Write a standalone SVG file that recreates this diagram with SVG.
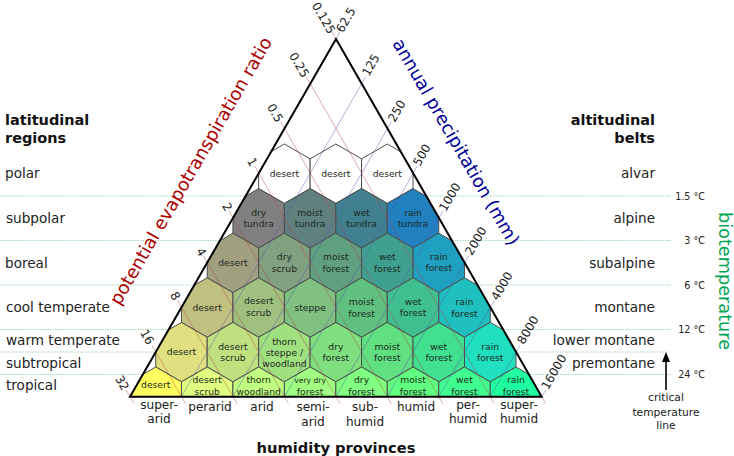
<svg xmlns="http://www.w3.org/2000/svg" width="734" height="456" viewBox="0 0 734 456">
<style>
text{font-family:"DejaVu Sans",sans-serif;fill:#222}
.h{font-size:9.2px;text-anchor:middle;fill:#1c2a20}
.hx{stroke:#4d4d4d;stroke-width:1}
.b{font-size:14.5px;font-weight:bold;fill:#111}
.l{font-size:13.6px}
.p{font-size:12.1px;text-anchor:middle}
.r{text-anchor:end}
.m{text-anchor:middle}
.t{font-size:12px;text-anchor:middle;fill:#222}
.d{font-size:9.6px;text-anchor:end}
.c{font-size:10.7px;text-anchor:middle}
.g{stroke:#a5d8bd;stroke-width:1;stroke-dasharray:1.5 1}
.red line{stroke:#b04040;stroke-opacity:.55;stroke-width:.8}
.blue line{stroke:#5050a8;stroke-opacity:.55;stroke-width:.8}
</style>
<defs>
<polygon id="hex" points="0,-29.7 25.73,-14.85 25.73,14.85 0,29.7 -25.73,14.85 -25.73,-14.85"/>
<clipPath id="tri"><polygon points="336,39 541.7,396.7 130,396.7"/></clipPath>
</defs>
<g id="temperature-lines">
<line class="g" x1="0" y1="196" x2="671" y2="196"/>
<line class="g" x1="0" y1="240.5" x2="671" y2="240.5"/>
<line class="g" x1="0" y1="285" x2="671" y2="285"/>
<line class="g" x1="0" y1="329.5" x2="671" y2="329.5"/>
<line class="g" x1="0" y1="352" x2="668" y2="352"/>
<line class="g" x1="0" y1="374.5" x2="671" y2="374.5"/>
</g>
<g id="hexagons" clip-path="url(#tri)">
<g id="n5a"><use href="#hex" class="hx" x="284.38" y="173.7" fill="#fff"/><text class="h" x="284.38" y="176.7">desert</text></g>
<g id="n5b"><use href="#hex" class="hx" x="335.84" y="173.7" fill="#fff"/><text class="h" x="335.84" y="176.7">desert</text></g>
<g id="n5c"><use href="#hex" class="hx" x="387.3" y="173.7" fill="#fff"/><text class="h" x="387.3" y="176.7">desert</text></g>

<g id="n4a"><use href="#hex" class="hx" x="258.65" y="218.3" fill="#808080"/><text class="h"><tspan x="258.65" y="216">dry</tspan><tspan x="258.65" y="227.3">tundra</tspan></text></g>
<g id="n4b"><use href="#hex" class="hx" x="310.11" y="218.3" fill="#608080"/><text class="h"><tspan x="310.11" y="216">moist</tspan><tspan x="310.11" y="227.3">tundra</tspan></text></g>
<g id="n4c"><use href="#hex" class="hx" x="361.57" y="218.3" fill="#408090"/><text class="h"><tspan x="361.57" y="216">wet</tspan><tspan x="361.57" y="226.5">tundra</tspan></text></g>
<g id="n4d"><use href="#hex" class="hx" x="413.03" y="218.3" fill="#2080c0"/><text class="h"><tspan x="413.03" y="216">rain</tspan><tspan x="413.03" y="227">tundra</tspan></text></g>

<g id="n3a"><use href="#hex" class="hx" x="232.92" y="262.9" fill="#a0a080"/><text class="h" x="232.92" y="266">desert</text></g>
<g id="n3b"><use href="#hex" class="hx" x="284.38" y="262.9" fill="#80a080"/><text class="h"><tspan x="284.38" y="260">dry</tspan><tspan x="284.38" y="271.7">scrub</tspan></text></g>
<g id="n3c"><use href="#hex" class="hx" x="335.84" y="262.9" fill="#60a080"/><text class="h"><tspan x="335.84" y="260">moist</tspan><tspan x="335.84" y="271.7">forest</tspan></text></g>
<g id="n3d"><use href="#hex" class="hx" x="387.3" y="262.9" fill="#40a090"/><text class="h"><tspan x="387.3" y="260">wet</tspan><tspan x="387.3" y="271.7">forest</tspan></text></g>
<g id="n3e"><use href="#hex" class="hx" x="438.76" y="262.9" fill="#20a0c0"/><text class="h"><tspan x="438.76" y="259.5">rain</tspan><tspan x="438.76" y="271">forest</tspan></text></g>

<g id="n2a"><use href="#hex" class="hx" x="207.19" y="307.5" fill="#c0c080"/><text class="h" x="207.19" y="310.7">desert</text></g>
<g id="n2b"><use href="#hex" class="hx" x="258.65" y="307.5" fill="#a0c080"/><text class="h"><tspan x="258.65" y="304">desert</tspan><tspan x="258.65" y="316">scrub</tspan></text></g>
<g id="n2c"><use href="#hex" class="hx" x="310.11" y="307.5" fill="#80c080"/><text class="h" x="310.11" y="310.5">steppe</text></g>
<g id="n2d"><use href="#hex" class="hx" x="361.57" y="307.5" fill="#60c080"/><text class="h"><tspan x="361.57" y="305">moist</tspan><tspan x="361.57" y="316.7">forest</tspan></text></g>
<g id="n2e"><use href="#hex" class="hx" x="413.03" y="307.5" fill="#40c090"/><text class="h"><tspan x="413.03" y="305">wet</tspan><tspan x="413.03" y="316">forest</tspan></text></g>
<g id="n2f"><use href="#hex" class="hx" x="464.49" y="307.5" fill="#20c0c0"/><text class="h"><tspan x="464.49" y="305">rain</tspan><tspan x="464.49" y="316.7">forest</tspan></text></g>

<g id="n1a"><use href="#hex" class="hx" x="181.46" y="352.1" fill="#e0e080"/><text class="h" x="181.46" y="355">desert</text></g>
<g id="n1b"><use href="#hex" class="hx" x="232.92" y="352.1" fill="#c0e080"/><text class="h"><tspan x="232.92" y="349.5">desert</tspan><tspan x="232.92" y="361">scrub</tspan></text></g>
<g id="n1c"><use href="#hex" class="hx" x="284.38" y="352.1" fill="#a0e080"/><text class="h"><tspan x="284.38" y="344.5">thorn</tspan><tspan x="284.38" y="355.5">steppe /</tspan><tspan x="284.38" y="367">woodland</tspan></text></g>
<g id="n1d"><use href="#hex" class="hx" x="335.84" y="352.1" fill="#80e080"/><text class="h"><tspan x="335.84" y="349.5">dry</tspan><tspan x="335.84" y="361">forest</tspan></text></g>
<g id="n1e"><use href="#hex" class="hx" x="387.3" y="352.1" fill="#60e080"/><text class="h"><tspan x="387.3" y="349.5">moist</tspan><tspan x="387.3" y="361">forest</tspan></text></g>
<g id="n1f"><use href="#hex" class="hx" x="438.76" y="352.1" fill="#40e090"/><text class="h"><tspan x="438.76" y="349.5">wet</tspan><tspan x="438.76" y="361">forest</tspan></text></g>
<g id="n1g"><use href="#hex" class="hx" x="490.22" y="352.1" fill="#20e0c0"/><text class="h"><tspan x="490.22" y="350">rain</tspan><tspan x="490.22" y="361">forest</tspan></text></g>

<g id="n0a"><use href="#hex" class="hx" x="155.73" y="396.7" fill="#ffff60"/><text class="h" x="155.73" y="388">desert</text></g>
<g id="n0b"><use href="#hex" class="hx" x="207.19" y="396.7" fill="#e0ff80"/><text class="h"><tspan x="207.19" y="383">desert</tspan><tspan x="207.19" y="395">scrub</tspan></text></g>
<g id="n0c"><use href="#hex" class="hx" x="258.65" y="396.7" fill="#c0ff80"/><text class="h"><tspan x="258.65" y="383">thorn</tspan><tspan x="258.65" y="395">woodland</tspan></text></g>
<g id="n0d"><use href="#hex" class="hx" x="310.11" y="396.7" fill="#a0ff80"/><text class="h" x="310.11" y="394.5">forest</text><text class="h" style="font-size:7.6px" x="310.11" y="383">very dry</text></g>
<g id="n0e"><use href="#hex" class="hx" x="361.57" y="396.7" fill="#80ff80"/><text class="h"><tspan x="361.57" y="383">dry</tspan><tspan x="361.57" y="395">forest</tspan></text></g>
<g id="n0f"><use href="#hex" class="hx" x="413.03" y="396.7" fill="#60ff80"/><text class="h"><tspan x="413.03" y="383">moist</tspan><tspan x="413.03" y="395">forest</tspan></text></g>
<g id="n0g"><use href="#hex" class="hx" x="464.49" y="396.7" fill="#40ff90"/><text class="h"><tspan x="464.49" y="383">wet</tspan><tspan x="464.49" y="395">forest</tspan></text></g>
<g id="n0h"><use href="#hex" class="hx" x="515.95" y="396.7" fill="#20ffa0"/><text class="h"><tspan x="515.95" y="383">rain</tspan><tspan x="515.95" y="395">forest</tspan></text></g>
</g>
<g id="connectors">
<g class="red">
<line x1="332" y1="32.1" x2="545.7" y2="403.6"/>
<line x1="306.27" y1="76.81" x2="494.24" y2="403.6"/>
<line x1="280.54" y1="121.52" x2="442.78" y2="403.6"/>
<line x1="254.81" y1="166.23" x2="391.32" y2="403.6"/>
<line x1="229.08" y1="210.94" x2="339.86" y2="403.6"/>
<line x1="203.35" y1="255.65" x2="288.4" y2="403.6"/>
<line x1="177.62" y1="300.36" x2="236.94" y2="403.6"/>
<line x1="151.89" y1="345.07" x2="185.48" y2="403.6"/>
<line x1="126.16" y1="389.78" x2="134.02" y2="403.6"/>
</g>
<g class="blue">
<line x1="340" y1="32.1" x2="130" y2="396.7"/>
<line x1="365.73" y1="76.81" x2="181.46" y2="396.7"/>
<line x1="391.46" y1="121.52" x2="232.92" y2="396.7"/>
<line x1="417.19" y1="166.23" x2="284.38" y2="396.7"/>
<line x1="442.92" y1="210.94" x2="335.84" y2="396.7"/>
<line x1="468.65" y1="255.65" x2="387.3" y2="396.7"/>
<line x1="494.38" y1="300.36" x2="438.76" y2="396.7"/>
<line x1="520.11" y1="345.07" x2="490.22" y2="396.7"/>
<line x1="545.84" y1="389.78" x2="541.7" y2="396.7"/>
</g>
<line x1="666" y1="390" x2="666" y2="354" stroke="#000" stroke-width="1.6"/>
<path d="M666,352L670,362L662,362z" fill="#000"/>
</g>
<polygon id="triangle" points="336,39 541.7,396.7 130,396.7" fill="none" stroke="#000" stroke-width="2"/>
<g id="left-ticks">
<text class="t" transform="translate(323.5,18) rotate(60)" dy="4">0.125</text>
<text class="t" transform="translate(299,65) rotate(60)" dy="4">0.25</text>
<text class="t" transform="translate(275,113) rotate(60)" dy="4">0.5</text>
<text class="t" transform="translate(252,162) rotate(60)" dy="4">1</text>
<text class="t" transform="translate(227,207) rotate(60)" dy="4">2</text>
<text class="t" transform="translate(201,252) rotate(60)" dy="4">4</text>
<text class="t" transform="translate(175,296) rotate(60)" dy="4">8</text>
<text class="t" transform="translate(147,337) rotate(60)" dy="4">16</text>
<text class="t" transform="translate(122,383) rotate(60)" dy="4">32</text>
</g>
<g id="right-ticks">
<text class="t" transform="translate(346,20) rotate(-60)" dy="4">62.5</text>
<text class="t" transform="translate(371,65) rotate(-60)" dy="4">125</text>
<text class="t" transform="translate(397,111) rotate(-60)" dy="4">250</text>
<text class="t" transform="translate(422,155) rotate(-60)" dy="4">500</text>
<text class="t" transform="translate(450,197) rotate(-60)" dy="4">1000</text>
<text class="t" transform="translate(476,241) rotate(-60)" dy="4">2000</text>
<text class="t" transform="translate(502,286) rotate(-60)" dy="4">4000</text>
<text class="t" transform="translate(528,330) rotate(-60)" dy="4">8000</text>
<text class="t" transform="translate(554,372) rotate(-60)" dy="4">16000</text>
</g>
<g id="axis-titles">
<text class="m" style="font-size:18.1px;fill:#aa0000" transform="translate(191,171) rotate(-60)" dy="6">potential evapotranspiration ratio</text>
<text class="m" style="font-size:18px;fill:#000099" transform="translate(456,142) rotate(60)" dy="6">annual precipitation (mm)</text>
<text class="m" style="font-size:17.7px;fill:#00a651" transform="translate(725,281) rotate(90)" dy="6">biotemperature</text>
<text class="m" style="font-size:14.7px;font-weight:bold;fill:#111" x="336" y="453">humidity provinces</text>
</g>
<g id="latitudinal">
<text class="b" x="5" y="125">latitudinal</text>
<text class="b" x="5" y="143">regions</text>
<text class="l" x="5" y="178">polar</text>
<text class="l" x="6" y="222.5">subpolar</text>
<text class="l" x="5" y="268">boreal</text>
<text class="l" x="6" y="312">cool temperate</text>
<text class="l" x="6" y="345">warm temperate</text>
<text class="l" x="6" y="368">subtropical</text>
<text class="l" x="6" y="390">tropical</text>
</g>
<g id="altitudinal">
<text class="b r" x="655" y="125">altitudinal</text>
<text class="b r" x="655" y="143">belts</text>
<text class="l r" x="655" y="178">alvar</text>
<text class="l r" x="655" y="222.5">alpine</text>
<text class="l r" x="655" y="268">subalpine</text>
<text class="l r" x="655" y="312">montane</text>
<text class="l r" x="655" y="345">lower montane</text>
<text class="l r" x="655" y="368">premontane</text>
</g>
<g id="temperatures">
<text class="d" x="705" y="199.5">1.5 °C</text>
<text class="d" x="705" y="244">3 °C</text>
<text class="d" x="705" y="288.5">6 °C</text>
<text class="d" x="705" y="333">12 °C</text>
<text class="d" x="705" y="378">24 °C</text>
</g>
<g id="critical">
<text class="c" x="666" y="401">critical</text>
<text class="c" x="666" y="415.5">temperature</text>
<text class="c" x="666" y="429">line</text>
</g>
<g id="humidity">
<text class="p" x="159" y="409">super-</text><text class="p" x="159" y="423">arid</text>
<text class="p" x="210" y="411">perarid</text>
<text class="p" x="262" y="411">arid</text>
<text class="p" x="313" y="411">semi-</text><text class="p" x="313" y="425.5">arid</text>
<text class="p" x="365" y="411">sub-</text><text class="p" x="365" y="425.5">humid</text>
<text class="p" x="416" y="411">humid</text>
<text class="p" x="468" y="409">per-</text><text class="p" x="468" y="423">humid</text>
<text class="p" x="519" y="409">super-</text><text class="p" x="519" y="423">humid</text>
</g>
</svg>
